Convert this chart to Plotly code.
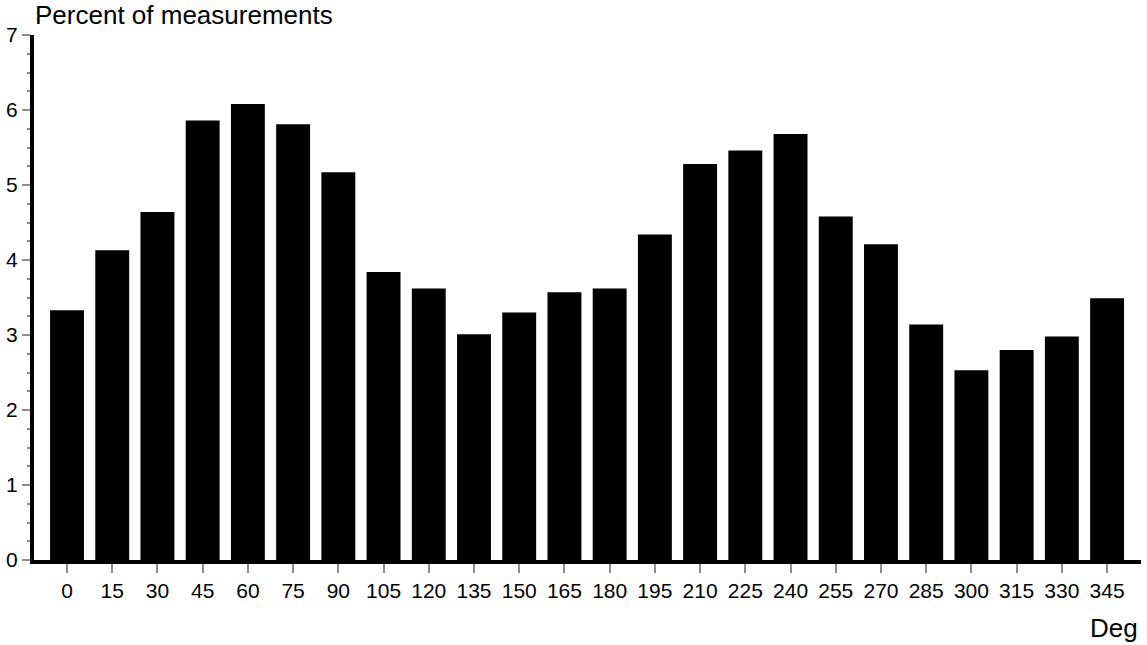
import plotly.graph_objects as go

# Direction bins (degrees) and share of measurements in each bin (%)
directions = ["0", "15", "30", "45", "60", "75", "90", "105", "120", "135", "150", "165",
              "180", "195", "210", "225", "240", "255", "270", "285", "300", "315", "330", "345"]
percent = [3.33, 4.13, 4.64, 5.86, 6.08, 5.81, 5.17, 3.84, 3.62, 3.01, 3.30, 3.57,
           3.62, 4.34, 5.28, 5.46, 5.68, 4.58, 4.21, 3.14, 2.53, 2.80, 2.98, 3.49]

y_ticks = [0, 1, 2, 3, 4, 5, 6, 7]

FONT = "Liberation Sans, Arial, sans-serif"

fig = go.Figure(
    go.Bar(
        x=directions,
        y=percent,
        marker=dict(color="black", line=dict(width=0)),
        hoverinfo="x+y",
    )
)

fig.update_layout(
    width=1147,
    height=645,
    margin=dict(l=34, r=6, t=35, b=85),
    paper_bgcolor="white",
    plot_bgcolor="white",
    bargap=0.25,
    showlegend=False,
    font=dict(family=FONT, size=21, color="black"),
    annotations=[
        dict(
            text="Percent of measurements",
            xref="paper", yref="paper",
            x=0, y=1, xanchor="left", yanchor="middle",
            yshift=20, xshift=-1,
            showarrow=False,
            font=dict(family=FONT, size=26, color="black"),
        ),
        dict(
            text="Deg",
            xref="paper", yref="paper",
            x=1, y=0, xanchor="right", yanchor="middle",
            yshift=-68, xshift=-1,
            showarrow=False,
            font=dict(family=FONT, size=26, color="black"),
        ),
    ],
)

fig.update_xaxes(
    type="category",
    range=[-0.73, 23.75],
    showgrid=False,
    zeroline=False,
    showline=True,
    linecolor="black",
    linewidth=4,
    ticks="outside",
    ticklen=9,
    tickwidth=2,
    tickcolor="#8c8c8c",
    tickfont=dict(family=FONT, size=21, color="black"),
    fixedrange=True,
)

fig.update_yaxes(
    range=[0, 7],
    tickvals=y_ticks,
    ticktext=[str(v) for v in y_ticks],
    showgrid=False,
    zeroline=False,
    showline=True,
    linecolor="black",
    linewidth=4,
    ticks="outside",
    ticklen=8,
    tickwidth=2,
    tickcolor="#8c8c8c",
    tickfont=dict(family=FONT, size=21, color="black"),
    minor=dict(dtick=0.25, ticks="outside", ticklen=3, tickwidth=2, tickcolor="#8c8c8c"),
    fixedrange=True,
)

fig.write_html("out.html")
